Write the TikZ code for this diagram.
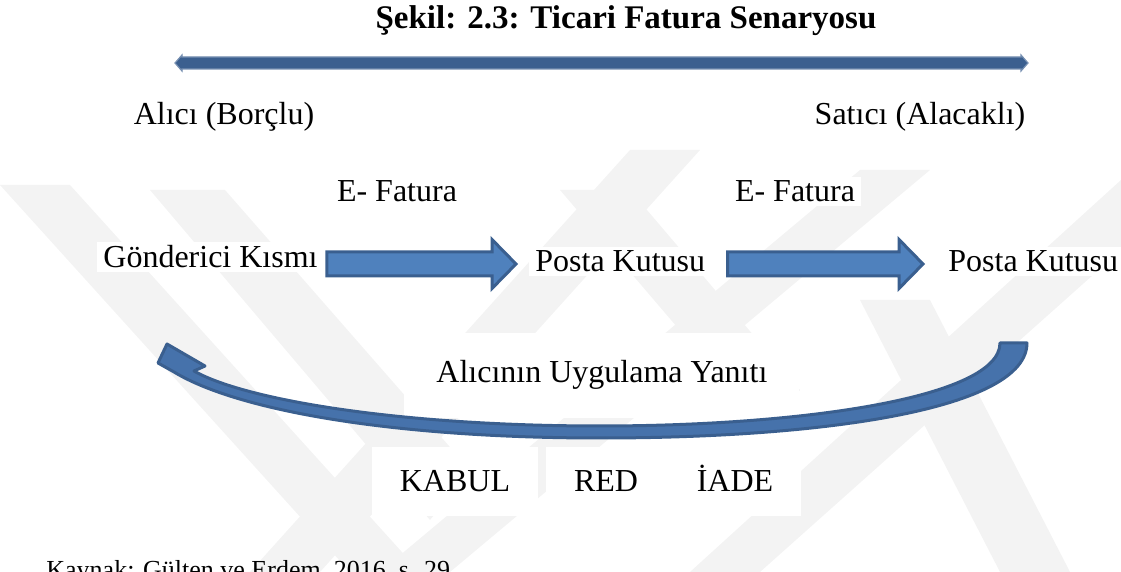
\documentclass[tikz,border=0pt]{standalone}
\usepackage{fontspec}
\setmainfont{Liberation Serif}
\usetikzlibrary{calc}
\definecolor{wm}{HTML}{F3F3F3}
\definecolor{afill}{HTML}{4F81BD}
\definecolor{cfill}{HTML}{4672AB}
\definecolor{aline}{HTML}{3A5F8F}
\definecolor{topbar}{HTML}{3B5F8F}
\tikzset{
  lbl/.style={font=\fontsize{16}{19}\selectfont, text=black, inner xsep=3, inner ysep=2},
  wbox/.style={lbl, fill=white},
  barrow/.style={fill=afill, draw=aline, line width=1.5pt, line join=miter},
  wmband/.style={fill=wm, draw=none}
}
\newcommand\blockarrow[2]{%
  \path[barrow] let \p1=#1, \p2=#2 in
    (\x1,\y1+6pt) -- (\x2-12pt,\y1+6pt) -- (\x2-12pt,\y1+12.25pt) -- (\x2,\y1)
    -- (\x2-12pt,\y1-12.25pt) -- (\x2-12pt,\y1-6pt) -- (\x1,\y1-6pt) -- cycle;}
\begin{document}
\begin{tikzpicture}[x=0.5pt,y=-0.5pt]
\useasboundingbox (0,0) rectangle (1121,572);
\clip (0,0) rectangle (1121,572);
% watermark (faint)
\path[wmband] (0,185) -- (70,185) -- (420,572) -- (350,572) -- cycle;
\path[wmband] (150,190) -- (225,190) -- (470,470) -- (430,520) -- cycle;
\path[wmband] (250,572) -- (320,572) -- (700,150) -- (630,150) -- cycle;
\path[wmband] (380,572) -- (450,572) -- (930,170) -- (860,170) -- cycle;
\path[wmband] (560,190) -- (630,190) -- (800,390) -- (765,430) -- cycle;
\path[wmband] (860,300) -- (930,300) -- (1070,572) -- (1000,572) -- cycle;
\path[wmband] (690,572) -- (760,572) -- (1121,250) -- (1121,180) -- cycle;
% title
\node[lbl, anchor=base, font=\fontsize{16.5}{19}\selectfont\bfseries] (title) at (626,29) {Şekil: 2.3: Ticari Fatura Senaryosu};
% top double arrow
\path[fill=topbar, draw=topbar!70!white, line width=0.6pt]
  (175,63) -- (182,55) -- (182,57) -- (1021,57) -- (1021,55) -- (1028,63)
  -- (1021,71) -- (1021,69) -- (182,69) -- (182,71) -- cycle;
% parties
\node[lbl, anchor=base] (alici) at (224,125) {Alıcı (Borçlu)};
\node[lbl, anchor=base] (satici) at (920,125) {Satıcı (Alacaklı)};
% row
\coordinate (rowy) at (0,264);
\node[wbox, anchor=base] (ef1) at (397,202) {E- Fatura};
\node[wbox, anchor=base] (ef2) at (795,202) {E- Fatura};
\node[wbox, anchor=base west] (gon) at (97,268) {Gönderici Kısmı};
\node[wbox, anchor=base west] (pk1) at (529,272) {Posta Kutusu};
\node[wbox, anchor=base west] (pk2) at (942,272) {Posta Kutusu};
\blockarrow{($(gon.east |- rowy)+(3,0)$)}{($(pk1.west |- rowy)+(-13,0)$)}
\blockarrow{($(pk1.east |- rowy)+(16,0)$)}{($(pk2.west |- rowy)+(-19,0)$)}
% response text and outcomes
\node[wbox, anchor=base west, inner xsep=16, inner ysep=14] (yanit) at (404,383) {Alıcının Uygulama Yanıtı};
\node[wbox, anchor=base, inner xsep=14, inner ysep=12] (kabul) at (455,492) {KABUL};
\node[wbox, anchor=base, inner xsep=14, inner ysep=12] (red) at (606,492) {RED};
\node[wbox, anchor=base, inner xsep=14, inner ysep=12] (iade) at (735,492) {İADE};
% curved return arrow
\path[barrow, fill=cfill, line join=round]
  (1027,343) .. controls (1027,408) and (830,438) .. (600,438)
  .. controls (400,438) and (240,412) .. (174,372)
  -- (158,363) -- (167,344) -- (205,366) -- (194,371)
  .. controls (245,400) and (400,426) .. (600,426)
  .. controls (800,426) and (1000,398) .. (1000,343) -- cycle;
% source (cut by the lower edge, as in the reference)
\node[lbl, anchor=base west, font=\fontsize{13}{15}\selectfont] (kaynak) at (40,579) {Kaynak: Gülten ve Erdem, 2016, s. 29};
\end{tikzpicture}
\end{document}
